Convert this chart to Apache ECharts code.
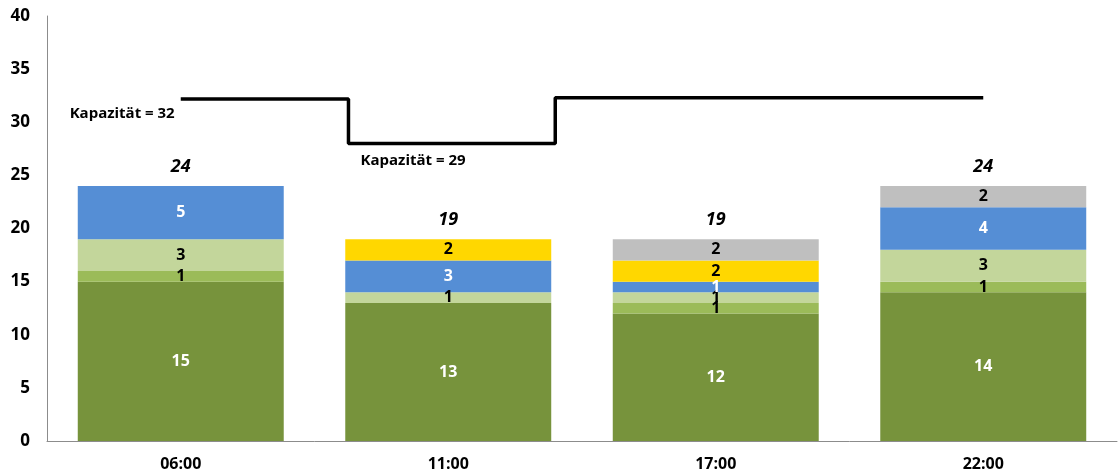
<!DOCTYPE html>
<html>
<head>
<meta charset="utf-8">
<script src="https://cdn.jsdelivr.net/npm/echarts@6/dist/echarts.min.js"></script>
<style>
  html, body { margin: 0; padding: 0; background: #fff; }
  #chart { width: 1120px; height: 476px; }
</style>
</head>
<body>
<div id="chart"></div>
<script>
var categories = ['06:00', '11:00', '17:00', '22:00'];

// stacked segments, bottom to top
var darkGreen  = [15, 13, 12, 14];
var midGreen   = [1, 0, 1, 1];
var lightGreen = [3, 1, 1, 3];
var blue       = [5, 3, 1, 4];
var yellow     = [0, 2, 2, 0];
var grey       = [0, 0, 2, 2];

// capacity step line: [position on category scale, capacity]
var capacityX = [0, 0.627, 0.627, 1.4, 1.4, 3];
var capacityY = [32.2, 32.2, 28, 28, 32.3, 32.3];
var capacityLabels = { 0: 'Kapazität = 32', 2: 'Kapazität = 29' };

var segments = [
  { name: 'a', data: darkGreen,  color: '#77933C', text: '#fff' },
  { name: 'b', data: midGreen,   color: '#9BBB59', text: '#000' },
  { name: 'c', data: lightGreen, color: '#C3D69B', text: '#000' },
  { name: 'd', data: blue,       color: '#558ED5', text: '#fff' },
  { name: 'e', data: yellow,     color: '#FFD700', text: '#000' },
  { name: 'f', data: grey,       color: '#BFBFBF', text: '#000' }
];

var totals = categories.map(function (c, i) {
  return segments.reduce(function (s, seg) { return s + seg.data[i]; }, 0);
});

var font = 'Open Sans';
var chart = echarts.init(document.getElementById('chart'));

var series = segments.map(function (seg) {
  return {
    name: seg.name,
    type: 'bar',
    stack: 'total',
    barWidth: '77%',
    data: seg.data,
    itemStyle: { color: seg.color },
    label: {
      show: true,
      position: 'inside',
      color: seg.text,
      fontFamily: font,
      fontWeight: 'bold',
      fontSize: 16,
      formatter: function (p) { return p.value ? p.value : ''; }
    }
  };
});

series.push({
  name: 'sum',
  type: 'bar',
  barWidth: '77%',
  barGap: '-100%',
  data: totals,
  z: 1,
  itemStyle: { color: 'rgba(0,0,0,0)' },
  label: {
    show: true,
    position: 'top',
    distance: 10,
    color: '#000',
    fontFamily: font,
    fontWeight: 'bold',
    fontStyle: 'italic',
    fontSize: 18
  }
});

var capLabelStyle = { show: true, color: '#000', fontFamily: font, fontWeight: 'bold', fontSize: 15 };
var capData = capacityX.map(function (x, i) {
  var item = { value: [x, capacityY[i]] };
  if (capacityLabels[i]) {
    item.label = Object.assign({}, capLabelStyle, i === 0
      ? { position: 'left', distance: 6, offset: [0, 15], formatter: capacityLabels[i] }
      : { position: 'right', distance: 12, offset: [0, 17], formatter: capacityLabels[i] });
  }
  return item;
});

series.push({
  name: 'Kapazität',
  type: 'line',
  xAxisIndex: 1,
  data: capData,
  symbol: 'circle',
  symbolSize: 0.1,
  showSymbol: true,
  lineStyle: { color: '#000', width: 3.5 },
  itemStyle: { color: '#000' },
  label: { show: false },
  z: 5
});

var option = {
  animation: false,
  grid: { left: 47, right: 3, top: 16, bottom: 35 },
  xAxis: [{
    type: 'category',
    data: categories,
    axisLine: { lineStyle: { color: '#8c8c8c', width: 1 } },
    axisTick: { show: false },
    axisLabel: { color: '#000', fontFamily: font, fontWeight: 'bold', fontSize: 16, margin: 15 }
  }, {
    type: 'value',
    min: -0.5,
    max: 3.5,
    show: false
  }],
  yAxis: {
    type: 'value',
    min: 0,
    max: 40,
    interval: 5,
    axisLine: { show: true, onZero: false, lineStyle: { color: '#8c8c8c', width: 1 } },
    axisTick: { show: false },
    splitLine: { show: false },
    axisLabel: { color: '#000', fontFamily: font, fontWeight: 'bold', fontSize: 17, margin: 17 }
  },
  series: series
};

chart.setOption(option);
</script>
</body>
</html>
